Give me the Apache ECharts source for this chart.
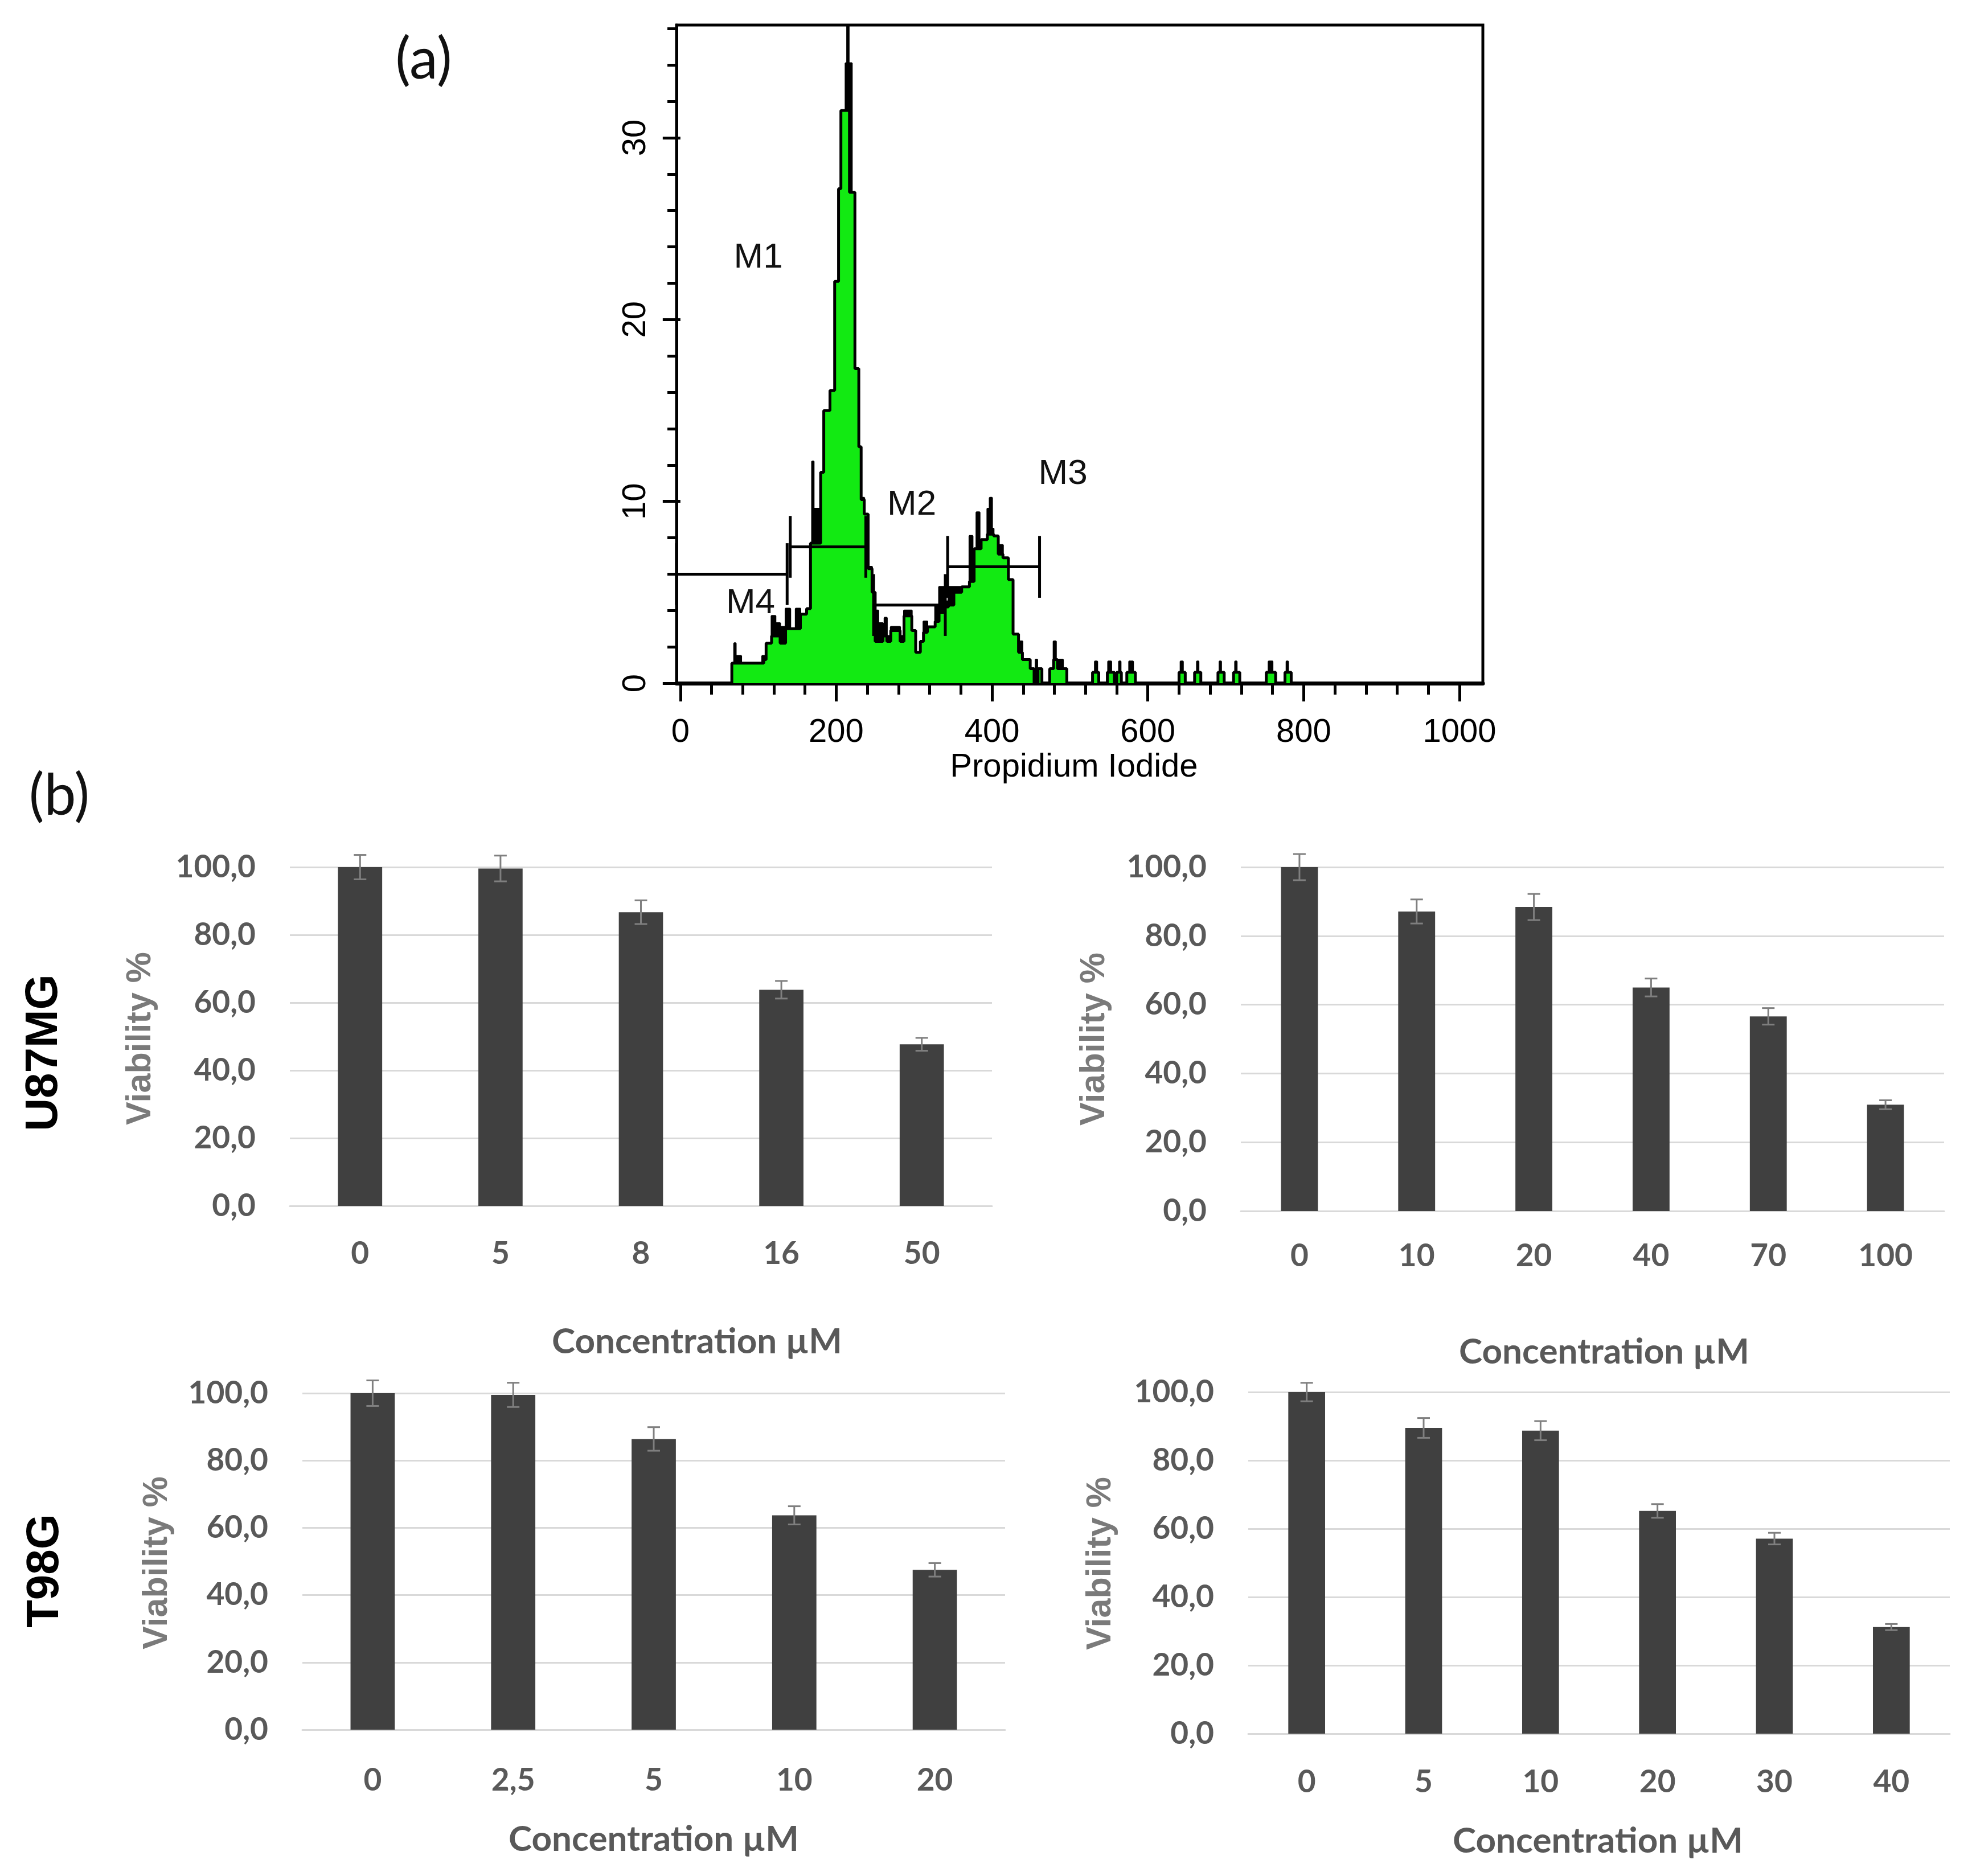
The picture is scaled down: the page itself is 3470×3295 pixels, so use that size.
<!DOCTYPE html>
<html><head><meta charset="utf-8">
<script src="https://cdn.jsdelivr.net/npm/echarts@6/dist/echarts.min.js"></script>
<style>html,body{margin:0;padding:0;background:#fff}#c{width:3470px;height:3295px}</style>
</head><body><div id="c"></div><script>
// ---------- (a) flow cytometry histogram data ----------
const piTicks = [0, 200, 400, 600, 800, 1000];
const piMinorTicks = [0,40,80,120,160,200,240,280,320,360,400,440,480,520,560,600,640,680,720,760,800,840,880,920,960,1000];
const countTicks = [0, 10, 20, 30];
const countMinorTicks = [0,2,4,6,8,10,12,14,16,18,20,22,24,26,28,30,32,34,36];

const greenEdges  = [-5,66,107,110,117,128,135,154,162,167,180,184,192,198,203,206,217,224,229,232,236,241,246,250,260,265,270,282,287,297,302,308,312,317,327,332,339,344,351,361,371,377,386,394,402,408,414,421,427,434,439,449,454,459,464,474,479,484,496,529,537,548,557,560,566,573,584,640,648,660,668,690,698,710,718,752,764,776,784];
const greenCounts = [0,1.1,1.3,2.2,2.6,2.2,3.0,3.8,4.1,7.7,11.6,15.0,16.1,22.1,27.2,31.5,27.0,17.3,13.0,10.1,9.3,6.3,5.0,2.3,2.6,2.3,2.9,2.3,3.7,2.9,1.7,2.3,2.8,3.1,3.4,3.9,4.2,4.3,5.0,5.3,5.6,7.4,7.9,8.2,8.1,7.1,6.9,5.7,2.7,1.7,1.3,0.8,0,0.8,0,0.8,1.3,0.8,0,0.6,0,0.6,0,0.6,0,0.6,0,0.6,0,0.6,0,0.6,0,0.6,0,0.6,0,0.6,0];

const blackEdges  = [-5,66,69,71,78,105,110,117,122,128,135,141,148,154,162,167,169,171,180,184,192,198,203,206,212,214,216,220,224,229,232,236,241,246,250,254,260,262,265,270,282,287,297,302,308,312,317,327,332,339,344,361,371,375,377,380,384,394,397,400,402,408,414,421,427,434,439,449,454,456,458,459,464,474,479,482,491,496,532,535,549,553,563,565,576,581,642,645,663,665,692,694,712,714,755,760,778,780];
const blackCounts = [0,1.1,2.2,1.5,1.1,1.5,2.2,3.7,3.3,3.1,4.1,3.0,4.1,3.8,4.1,7.7,12.2,9.6,11.6,15.0,16.1,22.1,27.2,31.5,34.1,38,34.1,26.8,17.3,13.0,10.2,9.3,6.4,5.0,4.0,3.3,2.6,3.6,2.6,3.1,2.6,4.0,2.9,1.7,2.3,3.4,3.1,4.3,5.3,4.5,5.3,5.3,8.1,5.8,7.4,9.4,7.9,9.6,10.2,8.5,8.1,7.6,6.9,5.7,2.7,2.3,1.3,0.8,0,1.3,0,0.8,0,0.8,2.3,1.3,0.8,0,1.2,0,1.2,0,1.2,0,1.2,0,1.2,0,1.2,0,1.2,0,1.2,0,1.2,0,1.2,0];

const markerNames  = ['M1', 'M2', 'M3', 'M4'];
const markerFrom   = [141, 248, 343, -5];
const markerTo     = [238, 340, 461, 137];
const markerLevel  = [7.5, 4.3, 6.4, 6.0];
const markerLabelX = [100, 297, 491, 90];
const markerLabelY = [23.4, 9.8, 11.5, 4.4];

// ---------- (b) viability bar charts data ----------
const viabTicks = [0, 20, 40, 60, 80, 100];
const u87A_conc = ['0', '5', '8', '16', '50'];
const u87A_viab = [100, 99.6, 86.7, 63.8, 47.7];
const u87A_err  = [3.6, 3.8, 3.5, 2.6, 1.9];
const u87B_conc = ['0', '10', '20', '40', '70', '100'];
const u87B_viab = [100, 87.1, 88.4, 65.0, 56.6, 30.9];
const u87B_err  = [3.8, 3.5, 3.8, 2.6, 2.4, 1.3];
const t98A_conc = ['0', '2,5', '5', '10', '20'];
const t98A_viab = [100, 99.5, 86.4, 63.7, 47.5];
const t98A_err  = [3.8, 3.6, 3.5, 2.7, 2.0];
const t98B_conc = ['0', '5', '10', '20', '30', '40'];
const t98B_viab = [100, 89.5, 88.7, 65.2, 57.1, 31.2];
const t98B_err  = [2.7, 2.9, 2.8, 2.0, 1.7, 0.9];

// ---------- build ----------
const zip = (a, b) => a.map((v, i) => [v, b[i]]);
const HFONT = 'Liberation Sans, Arial, sans-serif';
const BFONT = 'Lato, sans-serif';
const TICKGRAY = '#595959';

const histGrid = { left: 1188, top: 44, width: 1416, height: 1156 };

const grids = [
  Object.assign({ show: true, borderColor: '#000', borderWidth: 5, outerBoundsMode: 'none', containLabel: false }, histGrid),
  Object.assign({ show: false, outerBoundsMode: 'none', containLabel: false }, histGrid),
  { left: 509,  top: 1523, width: 1233, height: 595, outerBoundsMode: 'none', containLabel: false },
  { left: 2179, top: 1523, width: 1235, height: 604, outerBoundsMode: 'none', containLabel: false },
  { left: 531,  top: 2447, width: 1234, height: 591, outerBoundsMode: 'none', containLabel: false },
  { left: 2192, top: 2445, width: 1232, height: 600, outerBoundsMode: 'none', containLabel: false }
];

const xAxes = [
  { gridIndex: 0, type: 'value', min: -5, max: 1030,
    axisLine: { show: true, onZero: false, lineStyle: { color: '#000', width: 7 } },
    axisTick: { show: true, customValues: piMinorTicks, length: 20, lineStyle: { color: '#000', width: 5 } },
    axisLabel: { show: true, customValues: piTicks, margin: 58, fontSize: 58, fontFamily: HFONT, color: '#000',
      formatter: v => String(Math.round(v)) },
    splitLine: { show: false } },
  { gridIndex: 1, type: 'value', min: -5, max: 1030,
    axisLine: { show: false },
    axisTick: { show: true, customValues: piTicks, length: 32, lineStyle: { color: '#000', width: 5 } },
    axisLabel: { show: false }, splitLine: { show: false } }
];
const yAxes = [
  { gridIndex: 0, type: 'value', min: 0, max: 36.2,
    axisLine: { show: true, onZero: false, lineStyle: { color: '#000', width: 5 } },
    axisTick: { show: true, customValues: countMinorTicks, length: 16, lineStyle: { color: '#000', width: 5 } },
    axisLabel: { show: true, customValues: countTicks, rotate: 90, margin: 42, fontSize: 58, fontFamily: HFONT, color: '#000',
      formatter: v => String(Math.round(v)) },
    splitLine: { show: false } },
  { gridIndex: 1, type: 'value', min: 0, max: 36.2,
    axisLine: { show: false },
    axisTick: { show: true, customValues: countTicks, length: 31, lineStyle: { color: '#000', width: 5 } },
    axisLabel: { show: false }, splitLine: { show: false } }
];

const series = [
  { type: 'line', xAxisIndex: 0, yAxisIndex: 0, step: 'end', symbol: 'none', clip: true,
    data: zip(blackEdges, blackCounts),
    lineStyle: { color: '#000', width: 3 }, areaStyle: { color: '#000', opacity: 1 }, z: 2 },
  { type: 'line', xAxisIndex: 0, yAxisIndex: 0, step: 'end', symbol: 'none', clip: true,
    data: zip(greenEdges, greenCounts),
    lineStyle: { color: '#000', width: 5 }, areaStyle: { color: '#12ea12', opacity: 1 }, z: 3 },
  { type: 'custom', xAxisIndex: 0, yAxisIndex: 0, clip: false, z: 5,
    data: markerNames.map((n, i) => [markerFrom[i], markerTo[i], markerLevel[i], markerLabelX[i], markerLabelY[i], i]),
    encode: { x: [0, 1, 3], y: [2, 4] },
    renderItem: function (params, api) {
      const f = api.value(0), t = api.value(1), lv = api.value(2);
      const lx = api.value(3), ly = api.value(4), idx = api.value(5);
      const a = api.coord([f, lv]), b = api.coord([t, lv]);
      const hi = api.coord([f, lv + 1.7])[1], lo = api.coord([f, lv - 1.7])[1];
      const lp = api.coord([lx, ly]);
      const st = { stroke: '#000', lineWidth: 5 };
      return { type: 'group', children: [
        { type: 'line', shape: { x1: a[0], y1: a[1], x2: b[0], y2: b[1] }, style: st },
        { type: 'line', shape: { x1: a[0], y1: hi, x2: a[0], y2: lo }, style: st },
        { type: 'line', shape: { x1: b[0], y1: hi, x2: b[0], y2: lo }, style: st },
        { type: 'text', x: lp[0], y: lp[1], style: { text: markerNames[idx], fontSize: 62, fontFamily: HFONT,
          fill: '#111', align: 'center', verticalAlign: 'middle' } }
      ] };
    } }
];

function errRender(params, api) {
  const x = api.value(0), v = api.value(1), e = api.value(2);
  const top = api.coord([x, v + e]), bot = api.coord([x, v - e]);
  const cap = 11;
  const st = { stroke: '#7f7f7f', lineWidth: 3 };
  return { type: 'group', children: [
    { type: 'line', shape: { x1: top[0], y1: top[1], x2: bot[0], y2: bot[1] }, style: st },
    { type: 'line', shape: { x1: top[0] - cap, y1: top[1], x2: top[0] + cap, y2: top[1] }, style: st },
    { type: 'line', shape: { x1: bot[0] - cap, y1: bot[1], x2: bot[0] + cap, y2: bot[1] }, style: st }
  ] };
}

function addPanel(gridIdx, cats, vals, errs, xMargin) {
  const ai = xAxes.length;
  xAxes.push({ gridIndex: gridIdx, type: 'category', data: cats,
    axisLine: { show: true, lineStyle: { color: '#d9d9d9', width: 3 } },
    axisTick: { show: false },
    axisLabel: { margin: xMargin, fontSize: 55, fontFamily: BFONT, fontWeight: 'bold', color: TICKGRAY, interval: 0 } });
  yAxes.push({ gridIndex: gridIdx, type: 'value', min: 0, max: 100, interval: 20,
    axisLine: { show: false }, axisTick: { show: false },
    splitLine: { show: true, lineStyle: { color: '#d9d9d9', width: 3 } },
    axisLabel: { customValues: viabTicks, margin: 60, fontSize: 55, fontFamily: BFONT, fontWeight: 'bold', color: TICKGRAY,
      formatter: v => v.toFixed(1).replace('.', ',') } });
  series.push({ type: 'bar', xAxisIndex: ai, yAxisIndex: ai, data: vals, barWidth: '31.5%',
    itemStyle: { color: '#404040' }, z: 2 });
  series.push({ type: 'custom', xAxisIndex: ai, yAxisIndex: ai, clip: false, z: 4,
    data: vals.map((v, i) => [i, v, errs[i]]), encode: { x: 0, y: 1 }, renderItem: errRender });
}
addPanel(2, u87A_conc, u87A_viab, u87A_err, 57);
addPanel(3, u87B_conc, u87B_viab, u87B_err, 52);
addPanel(4, t98A_conc, t98A_viab, t98A_err, 62);
addPanel(5, t98B_conc, t98B_viab, t98B_err, 58);

function txt(x, y, text, size, family, weight, color, rot) {
  return { type: 'text', x: x, y: y, rotation: rot || 0, z: 10,
    style: { text: text, fontSize: size, fontFamily: family, fontWeight: weight, fill: color,
      align: 'center', verticalAlign: 'middle' } };
}
const R = Math.PI / 2;
const graphics = [
  txt(744, 106, '(a)', 100, BFONT, 'normal', '#111'),
  txt(104, 1399, '(b)', 100, BFONT, 'normal', '#111'),
  txt(1886, 1348, 'Propidium Iodide', 58, HFONT, 'normal', '#000'),
  txt(78, 1849, 'U87MG', 80, HFONT, 'bold', '#000', R),
  txt(80, 2759, 'T98G', 80, HFONT, 'bold', '#000', R),
  txt(247, 1824, 'Viability %', 61, HFONT, 'bold', '#7a7a7a', R),
  txt(1922, 1825, 'Viability %', 61, HFONT, 'bold', '#7a7a7a', R),
  txt(276, 2745, 'Viability %', 61, HFONT, 'bold', '#7a7a7a', R),
  txt(1933, 2746, 'Viability %', 61, HFONT, 'bold', '#7a7a7a', R),
  txt(1224, 2357, 'Concentration µM', 62, BFONT, 'bold', TICKGRAY),
  txt(2817, 2375, 'Concentration µM', 62, BFONT, 'bold', TICKGRAY),
  txt(1148, 3231, 'Concentration µM', 62, BFONT, 'bold', TICKGRAY),
  txt(2806, 3234, 'Concentration µM', 62, BFONT, 'bold', TICKGRAY)
];

const chart = echarts.init(document.getElementById('c'), null, { renderer: 'canvas', width: 3470, height: 3295 });
chart.setOption({
  animation: false,
  backgroundColor: '#fff',
  grid: grids,
  xAxis: xAxes,
  yAxis: yAxes,
  series: series,
  graphic: graphics
});
</script></body></html>
